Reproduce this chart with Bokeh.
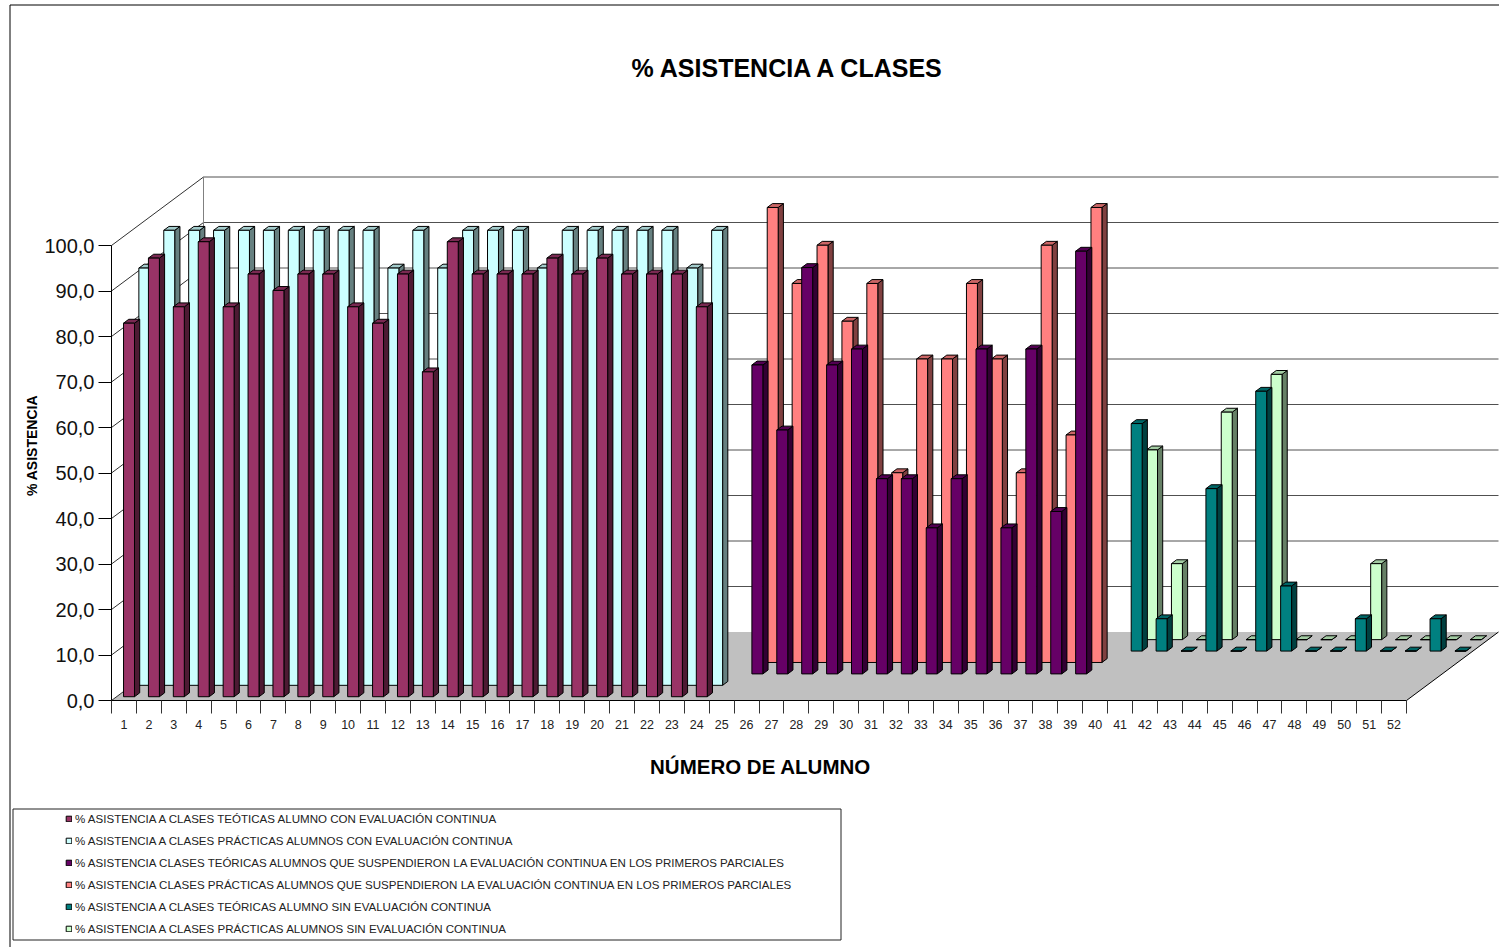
from bokeh.embed import file_html
from bokeh.resources import INLINE
from bokeh.plotting import figure
from bokeh.models import (BoxAnnotation, FixedTicker, Label, Legend,
                          LegendItem, LinearAxis, Range1d)

TITULO = "% ASISTENCIA A CLASES"
EJE_X = "NÚMERO DE ALUMNO"
EJE_Y = "% ASISTENCIA"

ALUMNOS = list(range(1, 53))
TICKS_Y = [0, 10, 20, 30, 40, 50, 60, 70, 80, 90, 100]
ETIQUETAS_Y = ["0,0", "10,0", "20,0", "30,0", "40,0", "50,0", "60,0", "70,0", "80,0", "90,0", "100,0"]

NOMBRES = [
    "% ASISTENCIA A CLASES TEÓTICAS ALUMNO CON EVALUACIÓN CONTINUA",
    "% ASISTENCIA A CLASES PRÁCTICAS ALUMNOS CON EVALUACIÓN CONTINUA",
    "% ASISTENCIA CLASES TEÓRICAS ALUMNOS QUE SUSPENDIERON LA EVALUACIÓN CONTINUA EN LOS PRIMEROS PARCIALES",
    "% ASISTENCIA CLASES PRÁCTICAS ALUMNOS QUE SUSPENDIERON LA EVALUACIÓN CONTINUA EN LOS PRIMEROS PARCIALES",
    "% ASISTENCIA A CLASES TEÓRICAS ALUMNO SIN EVALUACIÓN CONTINUA",
    "% ASISTENCIA A CLASES PRÁCTICAS ALUMNOS SIN EVALUACIÓN CONTINUA",
]

alumnos_grupo1 = list(range(1, 25))
alumnos_grupo2 = list(range(25, 39))
alumnos_grupo3 = list(range(39, 53))

teoria_con_ev = [82.1, 96.4, 85.7, 100, 85.7, 92.9, 89.3, 92.9, 92.9, 85.7, 82.1, 92.9,
                 71.4, 100, 92.9, 92.9, 92.9, 96.4, 92.9, 96.4, 92.9, 92.9, 92.9, 85.7]
practica_con_ev = [91.7, 100, 100, 100, 100, 100, 100, 100, 100, 100, 91.7, 100,
                   91.7, 100, 100, 100, 91.7, 100, 100, 100, 100, 100, 91.7, 100]
teoria_susp = [67.9, 53.6, 89.3, 67.9, 71.4, 42.9, 42.9, 32.1, 42.9, 71.4, 32.1, 71.4, 35.7, 92.9]
practica_susp = [100, 83.3, 91.7, 75.0, 83.3, 41.7, 66.7, 66.7, 83.3, 66.7, 41.7, 91.7, 50.0, 100]
teoria_sin_ev = [50.0, 7.1, 0, 35.7, 0, 57.1, 14.3, 0, 0, 7.1, 0, 0, 7.1, 0]
practica_sin_ev = [41.7, 16.7, 0, 50.0, 0, 58.3, 0, 0, 0, 16.7, 0, 0, 0, 0]

SERIES = [
    (alumnos_grupo1, teoria_con_ev, "#993366", "#7a2952", "#4d1a33"),
    (alumnos_grupo1, practica_con_ev, "#ccffff", "#a3cccc", "#668080"),
    (alumnos_grupo2, teoria_susp, "#660066", "#520052", "#330033"),
    (alumnos_grupo2, practica_susp, "#ff8080", "#cc6666", "#804040"),
    (alumnos_grupo3, teoria_sin_ev, "#008080", "#006666", "#004040"),
    (alumnos_grupo3, practica_sin_ev, "#ccffcc", "#a3cca3", "#668066"),
]

# Page geometry, in pixels of the 1499x947 canvas
W, H = 1499, 947
AXIS_X, AXIS_Y = 111, 700
PX_CAT = 1295 / 52
PX_VAL = 4.55
# Oblique projection: one series step of depth moves up and to the right
DEPTH_X = (92 / 6) / PX_CAT
DEPTH_Y = (68.5 / 6) / PX_VAL
BAR_HALF = 0.22
BAR_D0, BAR_D1 = 0.33, 0.67
N_DEPTH = len(SERIES)
X0, X1 = ALUMNOS[0] - 0.5, ALUMNOS[-1] + 0.5


def proj(cat, depth, val):
    return cat + depth * DEPTH_X, val + depth * DEPTH_Y


def px_x(px):
    return X0 + (px - AXIS_X) / PX_CAT


def px_y(py):
    return (AXIS_Y - py) / PX_VAL


p = figure(
    width=W, height=H, output_backend="svg", toolbar_location=None,
    x_range=Range1d(px_x(0), px_x(W)),
    y_range=Range1d(px_y(H), px_y(0)),
    min_border_left=0, min_border_right=0, min_border_top=0, min_border_bottom=0,
    x_axis_location=None, y_axis_location=None,
)
p.grid.visible = False
p.outline_line_color = None
p.background_fill_color = "white"

FONT = "Liberation Sans"

# Chart border and legend box
p.add_layout(BoxAnnotation(left=px_x(9.5), right=px_x(W + 20), top=px_y(4.5), bottom=px_y(H + 20),
                           fill_color=None, line_color="black", line_alpha=1, line_width=1))
p.add_layout(BoxAnnotation(left=px_x(12.5), right=px_x(840.5), top=px_y(808.5), bottom=px_y(939.5),
                           fill_color=None, line_color="#222222", line_alpha=1, line_width=1))

# Floor
fx, fy = zip(*[proj(X0, 0, 0), proj(X1, 0, 0), proj(X1, N_DEPTH, 0), proj(X0, N_DEPTH, 0)])
p.patch(list(fx), list(fy), fill_color="#c0c0c0", line_color=None)

# Back-wall gridlines and left-wall diagonals
bx, by, dx, dy = [], [], [], []
for v in TICKS_Y:
    ax, ay = proj(X0, N_DEPTH, v)
    cx, cy = proj(X1, N_DEPTH, v)
    if v > 0:
        bx.append([ax, cx])
        by.append([ay, cy])
    ex, ey = proj(X0, 0, v)
    dx.append([ex, ax])
    dy.append([ey, ay])
p.multi_line(bx, by, line_color="#505050", line_width=1)
p.multi_line(dx, dy, line_color="#303030", line_width=1)

# Back corner vertical
vx, vy = zip(*[proj(X0, N_DEPTH, 0), proj(X0, N_DEPTH, TICKS_Y[-1])])
p.line(list(vx), list(vy), line_color="#808080", line_width=1)

# Right floor edge
rx, ry = zip(*[proj(X1, 0, 0), proj(X1, N_DEPTH, 0)])
p.line(list(rx), list(ry), line_color="black", line_width=1)

# Bars, back series first
quads = {}
for i in reversed(range(len(SERIES))):
    cats, vals, front, top, side = SERIES[i]
    d0, d1 = i + BAR_D0, i + BAR_D1
    sx, sy, tx, ty = [], [], [], []
    ql, qr, qb, qt = [], [], [], []
    for c, v in zip(cats, vals):
        l, r = c - BAR_HALF, c + BAR_HALF
        pts = [proj(r, d0, 0), proj(r, d1, 0), proj(r, d1, v), proj(r, d0, v)]
        sx.append([q[0] for q in pts])
        sy.append([q[1] for q in pts])
        pts = [proj(l, d0, v), proj(r, d0, v), proj(r, d1, v), proj(l, d1, v)]
        tx.append([q[0] for q in pts])
        ty.append([q[1] for q in pts])
        a = proj(l, d0, 0)
        b = proj(r, d0, v)
        ql.append(a[0]); qb.append(a[1]); qr.append(b[0]); qt.append(b[1])
    p.patches(sx, sy, fill_color=side, line_color="black", line_width=1)
    p.patches(tx, ty, fill_color=top, line_color="black", line_width=1)
    quads[i] = p.quad(left=ql, right=qr, bottom=qb, top=qt, fill_color=front,
                      line_color="black", line_width=1)

# Axes fixed at the front corner of the floor
yax = LinearAxis(ticker=FixedTicker(ticks=TICKS_Y),
                 major_label_overrides=dict(zip(TICKS_Y, ETIQUETAS_Y)),
                 bounds=(TICKS_Y[0], TICKS_Y[-1]), fixed_location=X0)
yax.major_label_text_font = FONT
yax.major_label_text_font_size = "20px"
yax.major_label_text_color = "#111111"
yax.major_tick_in = 0
yax.major_tick_out = 13
yax.minor_tick_line_color = None
yax.major_label_standoff = 4
yax.axis_line_color = "black"
yax.major_tick_line_color = "black"
p.add_layout(yax, "left")

xax = LinearAxis(ticker=FixedTicker(ticks=ALUMNOS, minor_ticks=[c - 0.5 for c in ALUMNOS] + [X1]),
                 bounds=(X0, X1), fixed_location=0)
xax.major_label_text_font = FONT
xax.major_label_text_font_size = "12.5px"
xax.major_label_text_color = "#222222"
xax.major_tick_line_color = None
xax.major_tick_in = 0
xax.major_tick_out = 13
xax.minor_tick_in = 0
xax.minor_tick_out = 13
xax.minor_tick_line_color = "#333333"
xax.axis_line_color = "black"
xax.major_label_standoff = 6
p.add_layout(xax, "below")


def texto(txt, x, y, size, angle=0):
    p.add_layout(Label(x=x, y=H - y, x_units="screen", y_units="screen", text=txt, angle=angle,
                       angle_units="deg", text_align="center", text_baseline="middle",
                       text_font=FONT, text_font_size=size, text_font_style="bold",
                       text_color="black"))


texto(TITULO, 788, 67.5, "25px")
texto(EJE_X, 760, 765.5, "20.5px")
texto(EJE_Y, 31, 445, "14px", angle=90)

legend = Legend(
    items=[LegendItem(label=NOMBRES[i], renderers=[quads[i]]) for i in range(len(SERIES))],
    location=(65, H - 936), orientation="vertical",
    padding=0, margin=0, spacing=7, label_height=15, glyph_width=7, glyph_height=7,
    label_standoff=3, border_line_color=None, background_fill_color=None,
    label_text_font=FONT, label_text_font_size="11.55px", label_text_color="#222222",
)
p.add_layout(legend, "center")

open("out.html", "w").write(file_html(p, INLINE))
